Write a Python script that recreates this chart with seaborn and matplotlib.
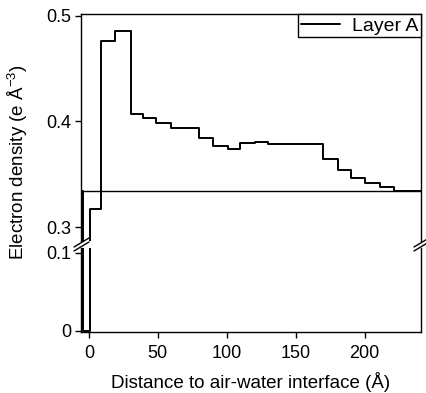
import matplotlib
matplotlib.use("Agg")
import matplotlib.pyplot as plt
import numpy as np
import pandas as pd
import seaborn as sns
from matplotlib.lines import Line2D

# ---- data ----
edges = [-6, -4.3, 0.5, 8.9, 18.8, 30.5, 39.2, 48.9, 59.8, 79.5, 90.0, 100.9,
         109.4, 120.3, 130.0, 170.1, 181.0, 190.0, 200.2, 211.0, 221.2, 241.0]
density = [0.334, 0.0, 0.317, 0.476, 0.485, 0.407, 0.4035, 0.398, 0.3937, 0.384,
           0.3764, 0.3736, 0.3795, 0.3805, 0.3783, 0.3648, 0.3538, 0.346, 0.342,
           0.338, 0.3343]
water_density = 0.334
series_label = "Layer A"
x_ticks = [0, 50, 100, 150, 200]
x_ticklabels = ["0", "50", "100", "150", "200"]
top_yticks = [0.3, 0.4, 0.5]
top_yticklabels = ["0.3", "0.4", "0.5"]
bot_yticks = [0.0, 0.1]
bot_yticklabels = ["0", "0.1"]

sns.set_theme(style="ticks")
plt.rcParams["font.family"] = ["Liberation Sans", "DejaVu Sans"]
plt.rcParams["mathtext.fontset"] = "custom"
plt.rcParams["mathtext.rm"] = "Liberation Sans"
for k in ("text.color", "axes.labelcolor", "xtick.color", "ytick.color", "axes.edgecolor"):
    plt.rcParams[k] = "black"

W, H = 426, 393
fig = plt.figure(figsize=(W / 100, H / 100), dpi=100)
fig.patch.set_facecolor("white")

left_px, right_px = 81, 421
ax_top = fig.add_axes([left_px / W, 1 - 241 / H, (right_px - left_px) / W, (241 - 14) / H])
ax_bot = fig.add_axes([left_px / W, 1 - 332 / H, (right_px - left_px) / W, (332 - 248) / H])

df = pd.DataFrame({"x": edges, "y": density + [density[-1]]})

sns.lineplot(data=df, x="x", y="y", drawstyle="steps-post", estimator=None, sort=False,
             color="black", lw=1.4, ax=ax_top, label=series_label)
sns.lineplot(data=df, x="x", y="y", drawstyle="steps-post", estimator=None, sort=False,
             color="black", lw=1.4, ax=ax_bot, legend=False)
ax_top.axhline(water_density, color="black", lw=1.0)

xlim = (-5.8, 241)
ax_top.set_xlim(*xlim)
ax_bot.set_xlim(*xlim)
ax_top.set_ylim(0.2868, 0.5015)
ax_bot.set_ylim(-0.0013, 0.1064)

for ax in (ax_top, ax_bot):
    ax.set_facecolor("white")
    ax.set_xlabel("")
    ax.set_ylabel("")
    for s in ax.spines.values():
        s.set_color("black")
        s.set_linewidth(1.0)
    ax.tick_params(direction="out", length=4, width=1, colors="black",
                   labelcolor="black", labelsize=13, pad=3)

ax_top.spines["bottom"].set_visible(False)
ax_bot.spines["top"].set_visible(False)
ax_top.tick_params(axis="x", bottom=False, labelbottom=False)
ax_top.set_yticks(top_yticks, labels=top_yticklabels)
ax_bot.set_yticks(bot_yticks, labels=bot_yticklabels)
ax_bot.set_xticks(x_ticks, labels=x_ticklabels)
ax_bot.tick_params(axis="x", pad=5)

leg = ax_top.legend(loc="upper right", frameon=True, fancybox=False, edgecolor="black",
                    framealpha=1, borderaxespad=0, handlelength=2.0, handletextpad=0.6,
                    borderpad=0.15, fontsize=14, labelcolor="black")
leg.get_frame().set_linewidth(1.0)

# axis break marks
def brk(x0, y0, x1, y1):
    fig.add_artist(Line2D([x0 / W, x1 / W], [1 - y0 / H, 1 - y1 / H], color="black", lw=1.0))

for dx in (left_px, right_px):
    brk(dx - 7, 247, dx + 8, 238)
    brk(dx - 7, 251, dx + 8, 242)

fig.text(18 / W, 1 - 162 / H, "Electron density (e Å$^{-3}$)", rotation=90,
         ha="center", va="center", fontsize=13.5, color="black")
fig.text(251 / W, 1 - 382 / H, "Distance to air-water interface (Å)",
         ha="center", va="center", fontsize=13.5, color="black")

fig.savefig("out.png", dpi=100)
